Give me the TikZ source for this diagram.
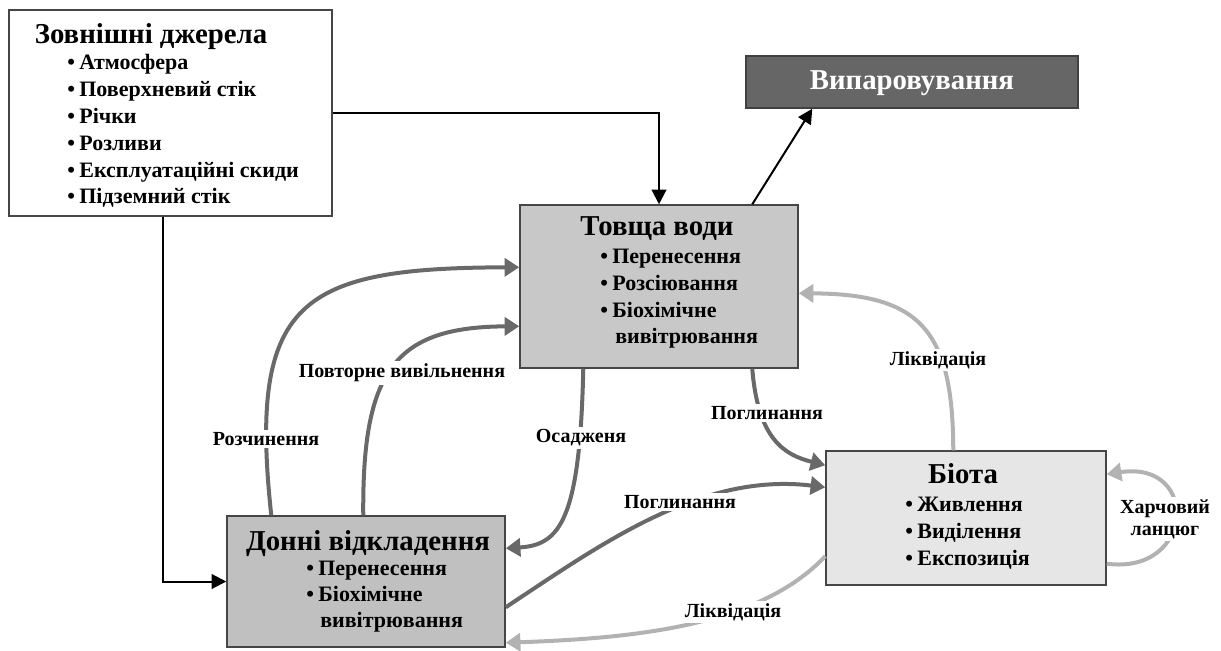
\documentclass[tikz,border=0pt]{standalone}
\usepackage{fontspec}
\setmainfont{Liberation Serif}
\usetikzlibrary{arrows.meta,calc,fit}

\definecolor{boxline}{RGB}{70,70,70}
\definecolor{waterfill}{RGB}{200,200,200}
\definecolor{sedfill}{RGB}{192,192,192}
\definecolor{biotafill}{RGB}{230,230,230}
\definecolor{evapfill}{RGB}{102,102,102}
\definecolor{flowdark}{RGB}{105,105,105}
\definecolor{flowlight}{RGB}{178,178,178}

\newcommand\bul[1]{\textbullet\hspace{0.2em}#1}

\begin{document}
\begin{tikzpicture}[x=0.75pt,y=-0.75pt,
  box/.style={draw=boxline,line width=1.1pt,inner sep=0pt},
  boxtitle/.style={font=\fontsize{21.6}{25}\selectfont\bfseries,inner sep=0pt,anchor=base},
  item/.style={font=\fontsize{16.5}{20}\selectfont\bfseries,inner sep=0pt,anchor=base west},
  flowlabel/.style={font=\fontsize{15}{16.5}\selectfont\bfseries,fill=white,inner sep=2pt,align=center},
  feed/.style={draw=black,line width=1.5pt,-{Triangle[length=11pt,width=11pt]}},
  darkflow/.style={draw=flowdark,line width=3pt,-{Triangle[length=11pt,width=13.5pt]}},
  lightflow/.style={draw=flowlight,line width=3pt,-{Triangle[length=11pt,width=13.5pt]}}]
\useasboundingbox (0,0) rectangle (1221,650);

% ---- compartments ----
\node[box,fill=white,fit={(9,10) (332,216)}] (src) {};
\node[box,fill=evapfill,draw=black!75,fit={(746,56) (1078,108)}] (evap) {};
\node[box,fill=waterfill,fit={(520,205) (798,368)}] (water) {};
\node[box,fill=sedfill,fit={(227,516) (505,647)}] (sed) {};
\node[box,fill=biotafill,fit={(826,451) (1106,585)}] (biota) {};

% ---- external sources ----
\node[boxtitle] (srcT) at (151,43) {Зовнішні джерела};
\node[item] (src1) at (67,69.5)  {\bul{Атмосфера}};
\node[item] (src2) at (67,96.5)  {\bul{Поверхневий стік}};
\node[item] (src3) at (67,123)   {\bul{Річки}};
\node[item] (src4) at (67,150)   {\bul{Розливи}};
\node[item] (src5) at (67,177)   {\bul{Експлуатаційні скиди}};
\node[item] (src6) at (67,203)   {\bul{Підземний стік}};

% ---- evaporation ----
\node[boxtitle,text=white] (evapT) at (912,89) {Випаровування};

% ---- water column ----
\node[boxtitle] (waterT) at (657,235) {Товща води};
\node[item] (water1) at (600,263) {\bul{Перенесення}};
\node[item] (water2) at (600,290) {\bul{Розсіювання}};
\node[item] (water3) at (600,317) {\bul{Біохімічне}};
\node[item] (water4) at (615,343) {вивітрювання};

% ---- bottom sediments ----
\node[boxtitle] (sedT) at (368,550) {Донні відкладення};
\node[item] (sed1) at (306,575) {\bul{Перенесення}};
\node[item] (sed2) at (306,601) {\bul{Біохімічне}};
\node[item] (sed3) at (320,627) {вивітрювання};

% ---- biota ----
\node[boxtitle] (biotaT) at (963,483) {Біота};
\node[item] (biota1) at (905,511) {\bul{Живлення}};
\node[item] (biota2) at (905,538) {\bul{Виділення}};
\node[item] (biota3) at (905,565) {\bul{Експозиція}};

% ---- inputs and evaporation ----
\draw[feed] (src.east) -| (water.north);
\draw[feed] ($(src.south west)+(155,0)$) |- (sed.west);
\draw[feed] ($(water.north west)+(233,0)$) -- ($(evap.south west)+(67,0)$);

% ---- exchanges between compartments ----
\draw[darkflow] ($(sed.north west)+(45,0)$) .. controls (248,300) and (300,268) .. ($(water.north west)+(0,63)$);
\draw[darkflow] ($(sed.north west)+(137,0)$) .. controls (362,370) and (395,327) .. ($(water.north west)+(0,122)$);
\draw[darkflow] ($(water.south west)+(64,0)$) .. controls (580,520) and (560,545) .. ($(sed.north east)+(0,33)$);
\draw[darkflow] ($(water.south west)+(233,0)$) .. controls (758,440) and (785,455) .. ($(biota.north west)+(0,15)$);
\draw[darkflow] ($(sed.north east)+(0,92)$) .. controls (600,545) and (700,472) .. ($(biota.north west)+(0,37)$);
\draw[lightflow] ($(biota.north west)+(0,106)$) .. controls (760,625) and (640,638) .. ($(sed.south east)+(0,-5)$);
\draw[lightflow] ($(biota.north west)+(128,0)$) .. controls (953,330) and (920,294) .. ($(water.north east)+(0,89)$);
\draw[lightflow] ($(biota.south east)+(0,-22)$) .. controls (1195,575) and (1200,460) .. ($(biota.north east)+(0,24)$);

% ---- flow labels ----
\node[flowlabel] (lDiss) at (266,439) {Розчинення};
\node[flowlabel] (lRel) at (402,373) {Повторне вивільнення};
\node[flowlabel] (lSet) at (581,438) {Осадженя};
\node[flowlabel] (lUp1) at (767,413) {Поглинання};
\node[flowlabel] (lUp2) at (680,502) {Поглинання};
\node[flowlabel] (lEl1) at (938,360) {Ліквідація};
\node[flowlabel] (lEl2) at (733,612) {Ліквідація};
\node[flowlabel] (lFood) at (1165,519) {Харчовий\\ланцюг};
\end{tikzpicture}
\end{document}
